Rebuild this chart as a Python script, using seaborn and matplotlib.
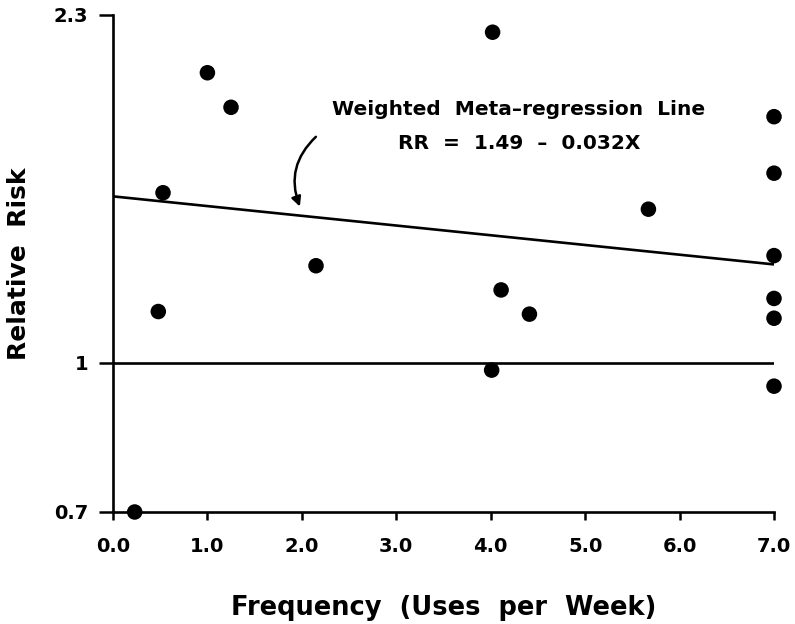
import matplotlib
matplotlib.use("Agg")
import matplotlib.pyplot as plt
import seaborn as sns
import pandas as pd

# ---- data ----
frequency = [0.23, 0.48, 0.53, 1.0, 1.25, 2.15, 4.02, 4.01, 4.11, 4.41, 5.67,
             7.0, 7.0, 7.0, 7.0, 7.0, 7.0]
relative_risk = [0.70, 1.131, 1.503, 2.003, 1.844, 1.262, 2.207, 0.983, 1.191, 1.124, 1.445,
                 1.803, 1.575, 1.293, 1.167, 1.113, 0.946]
reg_x = [0.0, 7.0]
reg_rr = [1.49, 1.266]   # RR = 1.49 - 0.032X at the ends of the axis
x_ticks = [0, 1, 2, 3, 4, 5, 6, 7]
x_ticklabels = ["0.0", "1.0", "2.0", "3.0", "4.0", "5.0", "6.0", "7.0"]
y_ticks = [0.7, 1.0, 2.3]
y_ticklabels = ["0.7", "1", "2.3"]

pts = pd.DataFrame({"freq": frequency, "rr": relative_risk})
reg = pd.DataFrame({"freq": reg_x, "rr": reg_rr})

sns.set_style("ticks")
plt.rcParams["font.family"] = ["DejaVu Sans"]
plt.rcParams["font.weight"] = "bold"
for k in ["text.color", "axes.labelcolor", "xtick.color", "ytick.color", "axes.edgecolor"]:
    plt.rcParams[k] = "black"

fig = plt.figure(figsize=(7.95, 6.24), dpi=100)
ax = fig.add_axes([0.1421, 0.1795, 0.8315, 0.7965])

ax.set_yscale("log")
ax.axhline(1.0, color="black", lw=1.9, zorder=2)
sns.lineplot(data=reg, x="freq", y="rr", ax=ax, color="black", lw=1.9, zorder=2)
sns.scatterplot(data=pts, x="freq", y="rr", ax=ax, color="black", s=125,
                edgecolor="none", zorder=3, clip_on=False)

ax.set_xlim(0, 7)
ax.set_ylim(0.7, 2.3)
ax.set_xticks(x_ticks)
ax.set_xticklabels(x_ticklabels, fontsize=14, fontweight="bold")
ax.set_yticks(y_ticks)
ax.set_yticklabels(y_ticklabels, fontsize=14, fontweight="bold")
ax.yaxis.set_minor_locator(matplotlib.ticker.NullLocator())
ax.tick_params(axis="y", width=1.8, length=10, pad=8)
ax.tick_params(axis="x", width=1.8, length=6, pad=12)

for s in ["top", "right"]:
    ax.spines[s].set_visible(False)
for s in ["left", "bottom"]:
    ax.spines[s].set_linewidth(1.9)

ax.set_xlabel("Frequency  (Uses  per  Week)", fontsize=18.5, fontweight="bold", labelpad=28)
ax.set_ylabel("Relative  Risk", fontsize=18, fontweight="bold", labelpad=16)

ax.text(4.3, 1.835, "Weighted  Meta\u2013regression  Line", ha="center", va="center",
        fontsize=14.5, fontweight="bold")
ax.text(4.3, 1.690, "RR  =  1.49  \u2013  0.032X", ha="center", va="center",
        fontsize=14.5, fontweight="bold")
ax.annotate("", xy=(1.99, 1.445), xytext=(2.17, 1.726),
            arrowprops=dict(arrowstyle="-|>", color="black", lw=1.8,
                            connectionstyle="arc3,rad=0.35", mutation_scale=14))

fig.savefig("out.png", dpi=100, facecolor="white")
